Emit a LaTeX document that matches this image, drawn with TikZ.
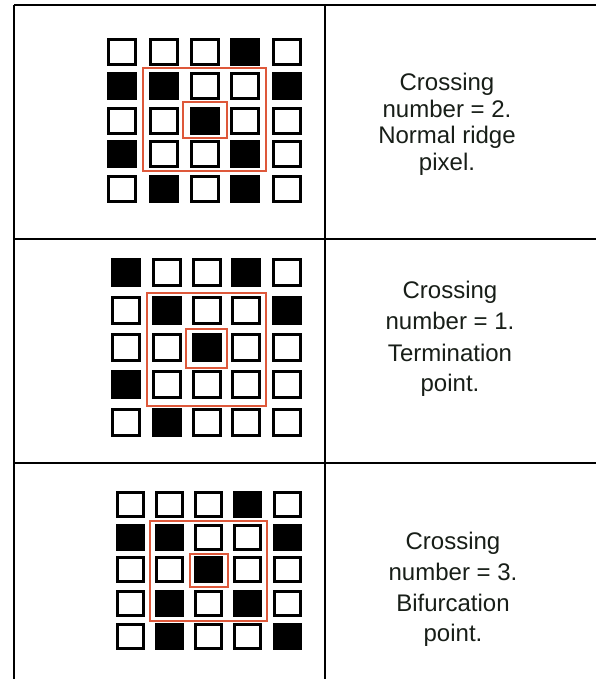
\documentclass[tikz,border=0pt]{standalone}
\usepackage{fontspec}
\setmainfont{Liberation Sans}
\definecolor{redc}{RGB}{222,88,58}
\definecolor{textc}{RGB}{24,30,24}
\newcommand{\pixpanel}[8]{%
  \foreach \yy/\a/\b/\c/\d/\e in {#8} {%
    \foreach \xx/\v in {#1/\a,#2/\b,#3/\c,#4/\d,#5/\e} {%
      \ifnum\v=1
        \fill[blackpix] (\xx,\yy) rectangle ++(#6,#7);
      \else
        \draw[whitepix] (\xx+1.5,\yy+1.5) rectangle ++(#6-3,#7-3);
      \fi
    }%
  }%
}
\begin{document}
\begin{tikzpicture}[x=1pt,y=-1pt,
  tableline/.style={line width=2.7pt,black},
  whitepix/.style={draw=black,line width=3pt,fill=white},
  blackpix/.style={fill=black},
  redbox/.style={draw=redc,line width=1.6pt},
  lbl/.style={font=\fontsize{24}{26}\selectfont,text=textc,anchor=base,inner sep=0pt}]
\useasboundingbox (0,0) rectangle (596,679);
\fill[white] (0,0) rectangle (596,679);
% table lines
\draw[tableline] (14,5) -- (600,5);
\draw[tableline] (14,5) -- (14,685);
\draw[tableline] (325,5) -- (325,685);
\draw[tableline] (14,239) -- (600,239);
\draw[tableline] (14,463) -- (600,463);
% panel 1
\pixpanel{107}{149}{190}{230}{272}{30}{28}{38/0/0/0/1/0,72/1/1/0/0/1,107/0/0/1/0/0,140/1/0/0/1/0,175/0/1/0/1/0}
\draw[redbox] (143,68) rectangle (266,171);
\draw[redbox] (183,102) rectangle (227,138);
% panel 2
\pixpanel{111}{152}{192}{231}{272}{30}{29}{258/1/0/0/1/0,296/0/1/0/0/1,333/0/0/1/0/0,370/1/0/0/0/0,408/0/1/0/0/0}
\draw[redbox] (147,293) rectangle (266,406);
\draw[redbox] (186,329) rectangle (227,368);
% panel 3
\pixpanel{116}{155}{194}{233}{273}{29}{27}{491/0/0/0/1/0,524/1/1/0/0/1,556/0/0/1/0/0,590/0/1/0/1/0,623/0/1/0/0/1}
\draw[redbox] (150,521) rectangle (267,621);
\draw[redbox] (190,554) rectangle (228,587);
% texts
\node[lbl] (t1a) at (447,91) {Crossing};
\node[lbl] (t1b) at (447,117.5) {number = 2.};
\node[lbl] (t1c) at (447,144) {Normal ridge};
\node[lbl] (t1d) at (447,170.5) {pixel.};
\node[lbl] (t2a) at (450,298) {Crossing};
\node[lbl] (t2b) at (450,329) {number = 1.};
\node[lbl] (t2c) at (450,361) {Termination};
\node[lbl] (t2d) at (450,391) {point.};
\node[lbl] (t3a) at (453,549) {Crossing};
\node[lbl] (t3b) at (453,580) {number = 3.};
\node[lbl] (t3c) at (453,611) {Bifurcation};
\node[lbl] (t3d) at (453,641) {point.};
\end{tikzpicture}
\end{document}
